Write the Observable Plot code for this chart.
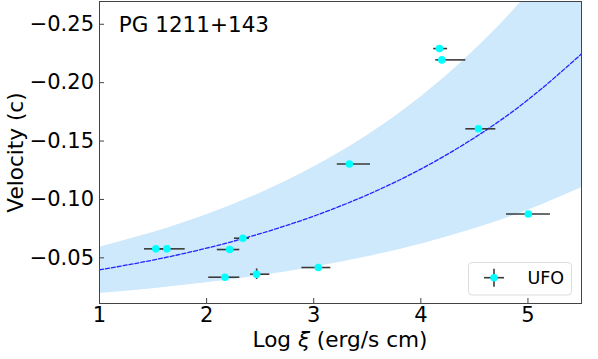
<!DOCTYPE html>
<html><head><meta charset="utf-8">
<script src="https://cdn.jsdelivr.net/npm/d3@7"></script>
<script src="https://cdn.jsdelivr.net/npm/@observablehq/plot@0.6"></script>
<style>body{margin:0;background:#fff}</style>
</head><body><div id="chart"></div>
<script>
// UFO measurements (Log xi, velocity in c)
const xi     = [1.526, 1.629, 2.215, 2.339, 2.171, 2.467, 3.043, 3.333, 4.174, 4.196, 4.538, 5.003];
const vel    = [-0.0577, -0.0577, -0.0571, -0.0668, -0.0334, -0.0360, -0.0417, -0.1304, -0.2292, -0.2195, -0.1605, -0.0876];
const xiLo   = [1.42, 1.52, 2.10, 2.26, 2.02, 2.41, 2.89, 3.22, 4.12, 4.14, 4.42, 4.80];
const xiHi   = [1.63, 1.80, 2.31, 2.40, 2.31, 2.59, 3.16, 3.53, 4.25, 4.42, 4.70, 5.21];
const velErr = [0, 0, 0, 0, 0, 0.0045, 0, 0, 0, 0, 0, 0];
// fitted relation and its band
const fitX    = [1, 1.5, 2, 2.5, 3, 3.5, 4, 4.5, 5, 5.5];
const fitV    = [-0.0397, -0.0481, -0.0583, -0.0707, -0.0857, -0.1039, -0.1260, -0.1528, -0.1853, -0.2246];
const bandHi  = [-0.0591, -0.0717, -0.0869, -0.1053, -0.1277, -0.1548, -0.1877, -0.2277, -0.2761, -0.3347];
const bandLo  = [-0.0195, -0.0236, -0.0286, -0.0346, -0.0420, -0.0509, -0.0617, -0.0749, -0.0908, -0.1101];
const xTicks = [1, 2, 3, 4, 5];
const yTicks = [-0.25, -0.20, -0.15, -0.10, -0.05];
const title = "PG 1211+143";
const yLabel = "Velocity (c)";
const legendLabel = "UFO";

const W = 598, H = 359, mL = 99, mR = 17, mT = 1, mB = 56;
const pts = xi.map((x, i) => ({x, v: vel[i], x1: xiLo[i], x2: xiHi[i], v1: vel[i] - velErr[i], v2: vel[i] + velErr[i]}));
const fit = fitX.map((x, i) => ({x, v: fitV[i], lo: bandLo[i], hi: bandHi[i]}));
const font = "DejaVu Sans";
const tickFs = 21, labelFs = 21.6;

const svg = Plot.plot({
  width: W, height: H,
  marginLeft: mL, marginRight: mR, marginTop: mT, marginBottom: mB,
  style: {fontFamily: font, fontSize: "20px", color: "#000", background: "#fff"},
  x: {domain: [1, 5.5]},
  y: {domain: [-0.0109, -0.2695]},
  marks: [
    Plot.areaY(fit, {x: "x", y1: "lo", y2: "hi", fill: "#cde9fb", curve: "natural", clip: true}),
    Plot.line(fit, {x: "x", y: "v", stroke: "#2424ff", strokeWidth: 1.3, strokeDasharray: "4,2", curve: "natural", clip: true}),
    Plot.ruleY(pts, {y: "v", x1: "x1", x2: "x2", stroke: "#3a3a3a", strokeWidth: 1.6}),
    Plot.ruleX(pts.filter(d => d.v1 !== d.v2), {x: "x", y1: "v1", y2: "v2", stroke: "#3a3a3a", strokeWidth: 1.6}),
    Plot.dot(pts, {x: "x", y: "v", r: 3.8, fill: "#00ffff", stroke: null}),
    Plot.frame({stroke: "#444", strokeWidth: 1}),
    Plot.axisX(xTicks, {tickSize: 0, tickPadding: 3.5, tickFormat: d => String(d), fontSize: tickFs, label: null}),
    Plot.axisY(yTicks, {tickSize: 0, tickPadding: 5.5, tickFormat: d3.format(".2f"), fontSize: tickFs, label: null}),
    Plot.tickX(xTicks, {x: d => d, stroke: "#444", insetTop: H - mT - mB - 5}),
    Plot.tickY(yTicks, {y: d => d, stroke: "#444", insetRight: W - mL - mR - 5}),
    Plot.text([title], {frameAnchor: "top-left", dx: 19.3, dy: 15.3, fontSize: 21.5, textAnchor: "start"}),
    Plot.text([yLabel], {frameAnchor: "left", dx: -83, rotate: -90, fontSize: labelFs, textAnchor: "middle"})
  ]
});

const s = d3.select(svg);
// x-axis label with italic xi
const xl = s.append("text")
  .attr("x", (mL + W - mR) / 2).attr("y", H - 12.3)
  .attr("text-anchor", "middle").attr("font-family", font).attr("font-size", labelFs).attr("fill", "#000");
xl.append("tspan").text("Log ");
xl.append("tspan").attr("font-style", "italic").text("ξ");
xl.append("tspan").text(" (erg/s cm)");

// legend box
const lx = W - mR - 112.5, ly = H - mB - 40.5;
const g = s.append("g");
g.append("rect").attr("x", lx).attr("y", ly).attr("width", 103).attr("height", 32.5).attr("rx", 3.5)
  .attr("fill", "#fff").attr("fill-opacity", 0.8).attr("stroke", "#dcdcdc").attr("stroke-width", 1);
const cx = lx + 25.5, cy = ly + 15.2;
g.append("line").attr("x1", cx - 10).attr("x2", cx + 10).attr("y1", cy).attr("y2", cy).attr("stroke", "#3a3a3a").attr("stroke-width", 1.6);
g.append("line").attr("x1", cx).attr("x2", cx).attr("y1", cy - 9).attr("y2", cy + 9).attr("stroke", "#3a3a3a").attr("stroke-width", 1.6);
g.append("circle").attr("cx", cx).attr("cy", cy).attr("r", 3.8).attr("fill", "#00ffff");
g.append("text").attr("x", lx + 59).attr("y", cy).attr("dy", "0.35em").attr("text-anchor", "start")
  .attr("font-family", font).attr("font-size", 17.5).attr("fill", "#000").text(legendLabel);

document.getElementById("chart").appendChild(svg);
</script>
</body></html>
